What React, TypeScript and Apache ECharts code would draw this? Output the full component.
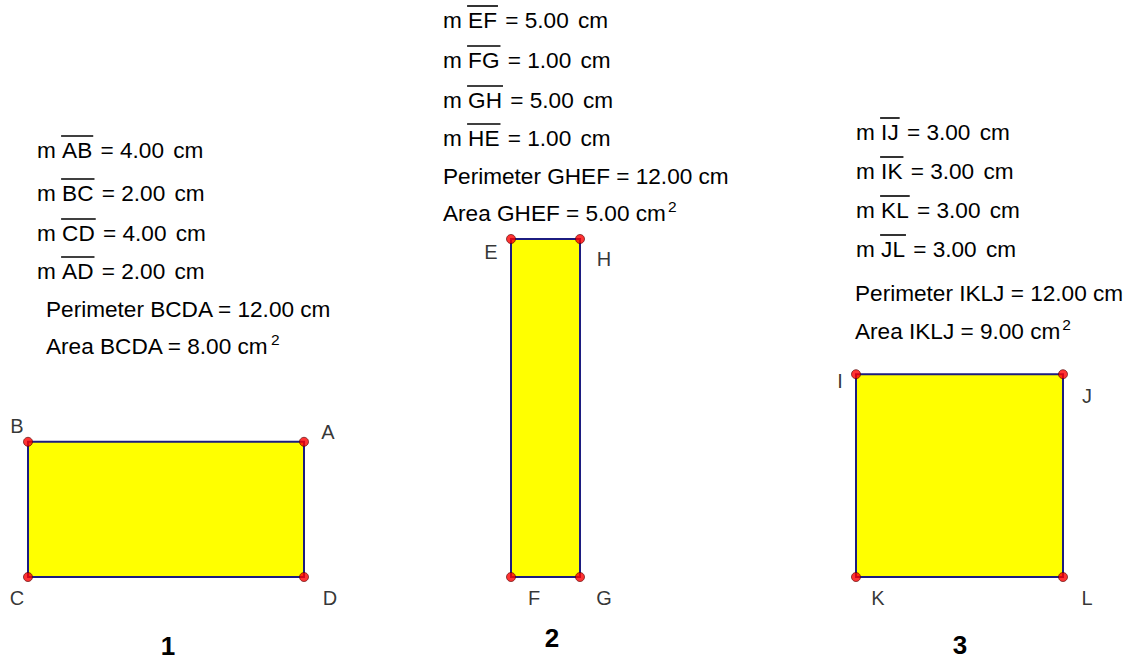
import React, { useEffect, useRef } from "react";
import * as echarts from "echarts";

// ---------- data ----------
const shapeCaptions = ["1", "2", "3"];
const shapeVertexNames = [
  ["B", "A", "D", "C"],
  ["E", "H", "G", "F"],
  ["I", "J", "L", "K"],
];
const shapeVertexX = [
  [0, 4, 4, 0],
  [7, 8, 8, 7],
  [12, 15, 15, 12],
];
const shapeVertexY = [
  [2, 2, 0, 0],
  [5, 5, 0, 0],
  [3, 3, 0, 0],
];
const segmentNames = [
  ["AB", "BC", "CD", "AD"],
  ["EF", "FG", "GH", "HE"],
  ["IJ", "IK", "KL", "JL"],
];
const segmentLengths = [
  [4, 2, 4, 2],
  [5, 1, 5, 1],
  [3, 3, 3, 3],
];
const polygonNames = ["BCDA", "GHEF", "IKLJ"];
const perimeters = [12, 12, 12];
const areas = [8, 5, 9];

// ---------- layout (pixels) ----------
const W = 1130;
const H = 661;
const PX_X = 69;
const PX_Y = 67.6;
const ORIGIN_X = 28;
const ORIGIN_Y = 577;
const blockX = [37, 443, 856];
const blockTextX = [46, 443, 855];
const blockLineY = [
  [150, 193, 233, 271, 309, 346],
  [20, 60, 100, 138, 176, 213],
  [132, 171, 210, 249, 293, 331],
];
const captionPos = [
  [168, 646],
  [552, 638],
  [960, 645],
];
const vertexLabelOffsets = [
  [[-11, -16], [24, -10], [26, 21], [-11, 21]],
  [[-20, 13], [24, 20], [24, 21], [23, 21]],
  [[-16, 7], [24, 22], [24, 21], [22, 21]],
];

const FONT = '"Liberation Sans", Arial, Helvetica, sans-serif';
const FS = 22.6;

let measureCtx: CanvasRenderingContext2D | null = null;
function textWidth(t: string, size = FS, weight = "normal") {
  if (!measureCtx) measureCtx = document.createElement("canvas").getContext("2d");
  if (!measureCtx) return t.length * size * 0.55;
  measureCtx.font = `${weight} ${size}px ${FONT}`;
  return measureCtx.measureText(t).width;
}

function txt(x: number, y: number, text: string, size = FS, weight = "normal") {
  return {
    type: "text",
    x,
    y,
    silent: true,
    style: {
      text,
      fill: "#000",
      font: `${weight} ${size}px ${FONT}`,
      fontFamily: FONT,
      fontSize: size,
      fontWeight: weight,
      textAlign: "left",
      textVerticalAlign: "middle",
      verticalAlign: "middle",
    },
  };
}

function buildGraphics() {
  const els: any[] = [];
  for (let s = 0; s < 3; s++) {
    const ys = blockLineY[s];
    for (let k = 0; k < 4; k++) {
      const y = ys[k];
      let x = blockX[s];
      els.push(txt(x, y, "m"));
      x += textWidth("m ");
      const seg = segmentNames[s][k];
      const segW = textWidth(seg);
      els.push(txt(x, y, seg));
      els.push({
        type: "line",
        silent: true,
        shape: { x1: x - 1, y1: y - 14, x2: x + segW + 1, y2: y - 14 },
        style: { stroke: "#000", lineWidth: 1.6 },
      });
      x += segW + textWidth(" ") + 2;
      const eq = "= " + segmentLengths[s][k].toFixed(2);
      els.push(txt(x, y, eq));
      x += textWidth(eq + " ") + 3;
      els.push(txt(x, y, "cm"));
    }
    const perim = `Perimeter ${polygonNames[s]} = ${perimeters[s].toFixed(2)} cm`;
    els.push(txt(blockTextX[s], ys[4], perim));
    const area = `Area ${polygonNames[s]} = ${areas[s].toFixed(2)} cm`;
    els.push(txt(blockTextX[s], ys[5], area));
    els.push(txt(blockTextX[s] + textWidth(area) + 2, ys[5] - 7, "2", 15.5));
    els.push(
      txt(captionPos[s][0] - textWidth(shapeCaptions[s], 26, "bold") / 2, captionPos[s][1], shapeCaptions[s], 26, "bold")
    );
  }
  return els;
}

export default function App() {
  const ref = useRef<HTMLDivElement>(null);
  useEffect(() => {
    if (!ref.current) return;
    const chart = echarts.init(ref.current, undefined, { renderer: "svg" });

    const pointData: any[] = [];
    for (let s = 0; s < 3; s++) {
      for (let i = 0; i < 4; i++) {
        pointData.push({
          name: shapeVertexNames[s][i],
          value: [shapeVertexX[s][i], shapeVertexY[s][i]],
          label: { offset: vertexLabelOffsets[s][i] },
        });
      }
    }

    chart.setOption({
      animation: false,
      backgroundColor: "#ffffff",
      grid: { left: 0, right: 0, top: 0, bottom: 0, containLabel: false },
      xAxis: {
        type: "value",
        min: -ORIGIN_X / PX_X,
        max: (W - ORIGIN_X) / PX_X,
        show: false,
      },
      yAxis: {
        type: "value",
        min: -(H - ORIGIN_Y) / PX_Y,
        max: ORIGIN_Y / PX_Y,
        show: false,
      },
      series: [
        {
          type: "custom",
          clip: false,
          silent: true,
          encode: { x: 0, y: 1 },
          data: shapeCaptions.map((_, i) => [shapeVertexX[i][0], shapeVertexY[i][0], i]),
          renderItem: (params: any, api: any) => {
            const s = params.dataIndex;
            const pts = shapeVertexX[s].map((x, i) => api.coord([x, shapeVertexY[s][i]]));
            return {
              type: "polygon",
              shape: { points: pts },
              style: { fill: "#ffff00", stroke: "#1c1c80", lineWidth: 2 },
            };
          },
          z: 1,
        },
        {
          type: "scatter",
          symbol: "circle",
          symbolSize: 9,
          silent: true,
          itemStyle: { color: "#ff0000", borderColor: "#500000", borderWidth: 0.8 },
          label: {
            show: true,
            position: "inside",
            formatter: "{b}",
            color: "#000",
            fontSize: 20,
            fontFamily: FONT,
          },
          data: pointData,
          z: 3,
        },
      ],
      graphic: { elements: buildGraphics() },
    });
    return () => chart.dispose();
  }, []);
  return (
    <div
      ref={ref}
      style={{ position: "absolute", left: 0, top: 0, width: W, height: H, background: "#fff" }}
    />
  );
}
